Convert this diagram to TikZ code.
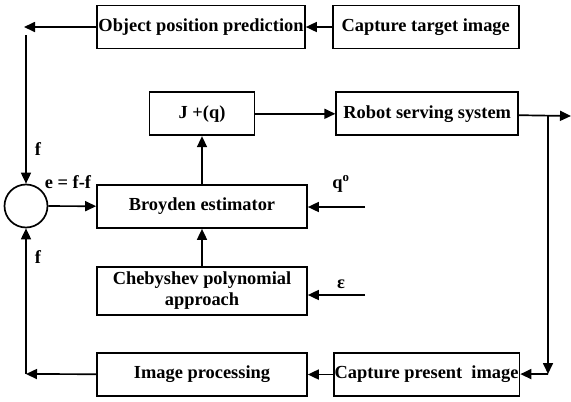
\documentclass[tikz,border=0pt]{standalone}
\usepackage{fontspec}
\setmainfont{Liberation Serif}
\usetikzlibrary{positioning, arrows.meta}

\begin{document}
\begin{tikzpicture}[x=1pt, y=-1pt,
blockbox/.style={rectangle,
  draw,
  line width=1.7pt,
  minimum height=43pt,
  inner sep=1pt,
  align=center,
  font=\fontsize{18.4}{21}\selectfont\bfseries
},
sumnode/.style={circle, draw, line width=1.7pt, minimum size=43pt, inner sep=0pt},
lbl/.style={inner sep=0pt, font=\fontsize{18.4}{21}\selectfont\bfseries},
conn/.style={->, line width=1.7pt},
>={Triangle[length=11pt,width=10pt]}
]
\useasboundingbox (0,0) rectangle (571,402);

\node[blockbox, minimum width=210pt] (broyden) at (202,206.5)
    {Broyden estimator};
\node[blockbox, minimum width=105pt, above=48pt of broyden] (jq)
    {J +(q)};
\node[blockbox, minimum width=182pt, right=80pt of jq] (robot)
    {Robot serving system};
\node[blockbox, minimum width=210pt, minimum height=48pt, below=37pt of broyden] (cheb)
    {Chebyshev polynomial\\approach};
\node[blockbox, minimum width=210pt] (imgproc) at (202,374.5)
    {Image processing};
\node[blockbox, minimum width=185pt, right=25pt of imgproc] (cappresent)
    {Capture present\ \ image};
\node[blockbox, minimum width=208pt] (objpred) at (201,27)
    {Object position prediction};
\node[blockbox, minimum width=186pt, right=26pt of objpred] (captarget)
    {Capture target image};
\node[sumnode] (sum) at (26,206) {};

\coordinate (objend) at (24,27);
\coordinate (downstart) at (26,35);
\coordinate (q0in) at (365,207);
\coordinate (epsin) at (365,295);
\coordinate (branch) at (548,116);
\coordinate (outend) at (571,116);
\coordinate (turn) at (548,374);
\coordinate (upstart) at (26,374);

\draw[conn] (captarget) -- (objpred);
\draw[conn] (objpred) -- (objend);
\draw[conn] (downstart) -- (sum);
\draw[conn] (sum) -- (broyden);
\draw[conn] (broyden) -- (jq);
\draw[conn] (cheb) -- (broyden);
\draw[conn] (jq) -- (robot);
\draw[conn] (robot) -- (outend);
\draw[conn] (branch) -- (turn);
\draw[conn] (turn) -- (cappresent);
\draw[conn] (cappresent) -- (imgproc);
\draw[conn] (imgproc) -- (upstart);
\draw[conn] (upstart) -- (sum);
\draw[conn] (q0in) -- (q0in -| broyden.east);
\draw[conn] (epsin) -- (epsin -| cheb.east);

\node[lbl] (fup) at (38,149) {f};
\node[lbl] (err) at (68,182) {e = f-f};
\node[lbl] (fdown) at (38,257) {f};
\node[lbl] (q0) at (341,184) {q\textsuperscript{o}};
\node[lbl] (eps) at (341,284) {ε};
\end{tikzpicture}
\end{document}
